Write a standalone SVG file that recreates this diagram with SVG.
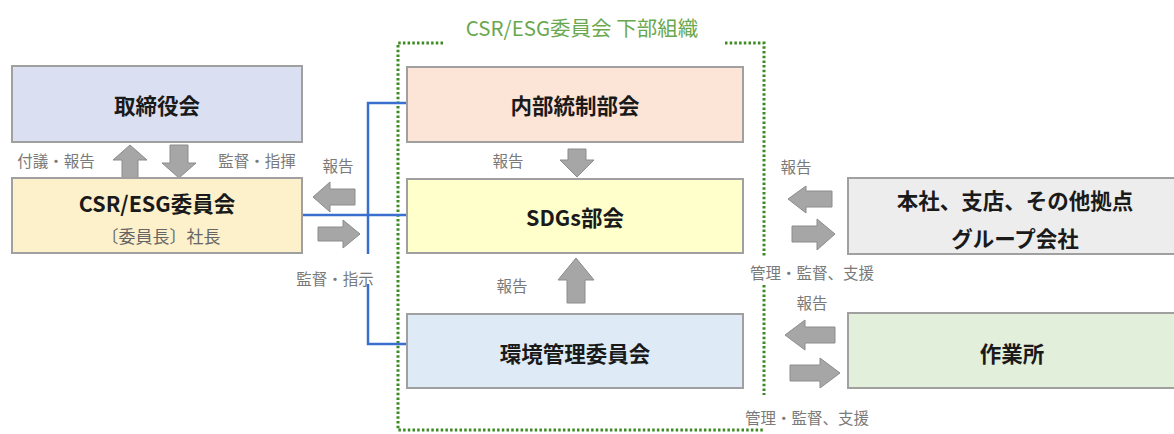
<svg xmlns="http://www.w3.org/2000/svg" width="1174" height="434" viewBox="0 0 1174 434">
<style>
.box{stroke:#a0a0a0;stroke-width:2}
.t{font-family:"Noto Sans CJK JP","Noto Sans",sans-serif;font-weight:bold;font-size:21.5px;fill:#1a1a1a;text-anchor:middle;dominant-baseline:central}
.s{font-family:"Noto Sans CJK JP","Noto Sans",sans-serif;font-size:15.5px;fill:#7a7a7a;text-anchor:middle;dominant-baseline:central}
.arr{fill:#a6a6a6;stroke:#8c8c8c;stroke-width:1}
.blue{fill:none;stroke:#3a6fd0;stroke-width:2.5}
.dot{fill:none;stroke:#3d8a24;stroke-width:3;stroke-dasharray:2.5 2.2}
</style>
<rect width="1174" height="434" fill="#ffffff"/>
<g id="subgroup">
<path class="dot" d="M443,43 H398 V430 H764 M725,43 H764 V257 M764,285 V395"/>
<text x="582" y="27" font-family="'Noto Sans CJK JP','Noto Sans',sans-serif" font-size="20.5" fill="#6aa84f" text-anchor="middle" dominant-baseline="central">CSR/ESG委員会 下部組織</text>
</g>
<g id="connectors">
<path class="blue" d="M408,103 H368 V254 M302,215 H408 M368,284 V344 H408"/>
<polygon class="arr" points="130,145 147,160 138,160 138,178 122,178 122,160 113,160"/>
<polygon class="arr" points="179,178 196,163 188,163 188,145 170,145 170,163 162,163"/>
<polygon class="arr" points="313,197 330,182 330,189 355,189 355,205 330,205 330,212"/>
<polygon class="arr" points="360,234 343,220 343,227 318,227 318,241 343,241 343,248"/>
<polygon class="arr" points="577,177 594,160 586,160 586,149 568,149 568,160 560,160"/>
<polygon class="arr" points="576,258 594,280 585,280 585,303 567,303 567,280 558,280"/>
<polygon class="arr" points="788,199 806,186 806,191 832,191 832,207 806,207 806,213"/>
<polygon class="arr" points="835,234 817,219 817,226 792,226 792,242 817,242 817,250"/>
<polygon class="arr" points="785,335 805,320 805,327 835,327 835,343 805,343 805,350"/>
<polygon class="arr" points="840,373 820,358 820,365 790,365 790,381 820,381 820,388"/>
<text class="s" x="56" y="160">付議・報告</text>
<text class="s" x="257" y="160">監督・指揮</text>
<text class="s" x="338" y="165">報告</text>
<text class="s" x="335" y="278">監督・指示</text>
<text class="s" x="508" y="160">報告</text>
<text class="s" x="512" y="285">報告</text>
<text class="s" x="796" y="166">報告</text>
<text class="s" x="812" y="272">管理・監督、支援</text>
<text class="s" x="812" y="302">報告</text>
<text class="s" x="807" y="417">管理・監督、支援</text>
</g>
<g id="board">
<rect class="box" x="12" y="66" width="290" height="76" fill="#dae0f1"/>
<text class="t" x="157" y="104">取締役会</text>
</g>
<g id="csr">
<rect class="box" x="12" y="178" width="290" height="75" fill="#fdf1cc"/>
<text class="t" x="157" y="202">CSR/ESG委員会</text>
<text class="s" x="161" y="235" style="font-size:17px;fill:#666">〔委員長〕社長</text>
</g>
<g id="internal">
<rect class="box" x="407" y="67" width="336" height="75" fill="#fce4d6"/>
<text class="t" x="575" y="104">内部統制部会</text>
</g>
<g id="sdgs">
<rect class="box" x="407" y="179" width="336" height="74" fill="#ffffcc"/>
<text class="t" x="575" y="216">SDGs部会</text>
</g>
<g id="env">
<rect class="box" x="407" y="314" width="336" height="74" fill="#deebf7"/>
<text class="t" x="575" y="352">環境管理委員会</text>
</g>
<g id="hq">
<rect class="box" x="848" y="178" width="330" height="76" fill="#ededed"/>
<text class="t" x="1015" y="199">本社、支店、その他拠点</text>
<text class="t" x="1015" y="237">グループ会社</text>
</g>
<g id="site">
<rect class="box" x="848" y="313" width="330" height="75" fill="#e2efda"/>
<text class="t" x="1012" y="352">作業所</text>
</g>
</svg>
